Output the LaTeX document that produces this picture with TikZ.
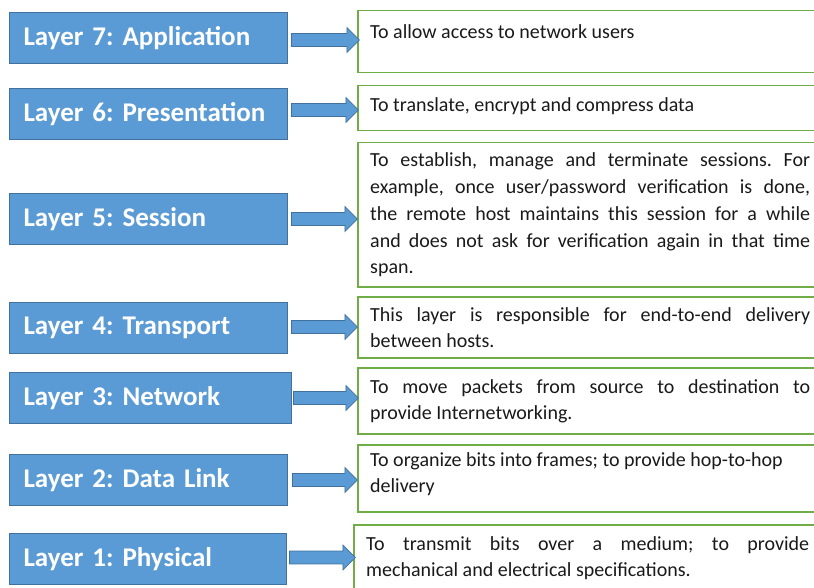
\documentclass[tikz,border=0pt]{standalone}
\usepackage{fontspec}
\setmainfont{Carlito}
\usetikzlibrary{shapes.arrows}
\definecolor{layerblue}{HTML}{5B9BD5}
\definecolor{layeredge}{HTML}{41719C}
\definecolor{descgreen}{HTML}{70AD47}
\definecolor{desctext}{HTML}{1A1A1A}
\tolerance=10000
\hbadness=10000
\frenchspacing

\begin{document}
\begin{tikzpicture}[
    x=1pt, y=-1pt,
    layer/.style={rectangle, draw=layeredge, line width=1pt, fill=layerblue, anchor=north west, minimum height=51pt, text width=250pt, inner xsep=14pt, align=left, text=white, font=\fontsize{27}{32}\selectfont\bfseries},
    desc/.style={rectangle, draw=descgreen, line width=1.5pt, fill=white, anchor=north west, minimum width=461pt},
    txt/.style={anchor=base west, inner sep=0pt, text width=440pt, align=justify, text=desctext, font=\fontsize{20}{26.7}\selectfont},
    barrow/.style={single arrow, draw=layeredge, fill=layerblue, line width=0.8pt, anchor=tail, minimum height=66pt, minimum width=25pt, inner sep=6pt, single arrow head extend=6pt}
]
\clip (0,0) rectangle (814,588);

% layers
\node[layer] (l7) at (9,12) {Layer 7: Application};
\node[layer] (l6) at (9,88) {Layer 6: Presentation};
\node[layer] (l5) at (9,193) {Layer 5: Session};
\node[layer] (l4) at (9,302) {Layer 4: Transport};
\node[layer, text width=254pt] (l3) at (9,372) {Layer 3: Network};
\node[layer] (l2) at (9,454) {Layer 2: Data Link};
\node[layer, text width=249pt] (l1) at (9,533) {Layer 1: Physical};

% description boxes
\node[desc, minimum height=62pt] (d7) at (357,10) {};
\node[desc, minimum height=45pt] (d6) at (357,85) {};
\node[desc, minimum height=144pt] (d5) at (357,142) {};
\node[desc, minimum height=61pt] (d4) at (357,296) {};
\node[desc, minimum height=66pt] (d3) at (357,367) {};
\node[desc, minimum height=67pt] (d2) at (357,444) {};
\node[desc, minimum height=68pt, minimum width=465pt] (d1) at (353,524) {};

\node[txt] (t7) at (370,39) {To allow access to network users};
\node[txt] (t6) at (370,112) {To translate, encrypt and compress data};
\node[txt] (t5) at (370,167) {To establish, manage and terminate sessions. For\linebreak example, once user/password verification is done,\linebreak the remote host maintains this session for a while\linebreak and does not ask for verification again in that time\linebreak span.};
\node[txt] (t4) at (370,321) {This layer is responsible for end-to-end delivery\linebreak between hosts.};
\node[txt] (t3) at (370,393) {To move packets from source to destination to\linebreak provide Internetworking.};
\node[txt] (t2) at (370,466) {To organize bits into frames; to provide hop-to-hop\\ delivery};
\node[txt, text width=443pt] (t1) at (366,550) {To transmit bits over a medium; to provide\linebreak mechanical and electrical specifications.};

% arrows
\node[barrow, minimum height=68pt] (a7) at ([xshift=3pt, yshift=-2pt]l7.east) {};
\node[barrow, minimum height=67pt] (a6) at ([xshift=3pt, yshift=4pt]l6.east) {};
\node[barrow] (a5) at ([xshift=3pt]l5.east) {};
\node[barrow] (a4) at ([xshift=3pt, yshift=1pt]l4.east) {};
\node[barrow, minimum height=65pt] (a3) at ([xshift=1pt]l3.east) {};
\node[barrow, minimum height=65pt] (a2) at ([xshift=4pt]l2.east) {};
\node[barrow, minimum height=66pt] (a1) at ([xshift=2pt, yshift=1.5pt]l1.east) {};
\end{tikzpicture}
\end{document}
